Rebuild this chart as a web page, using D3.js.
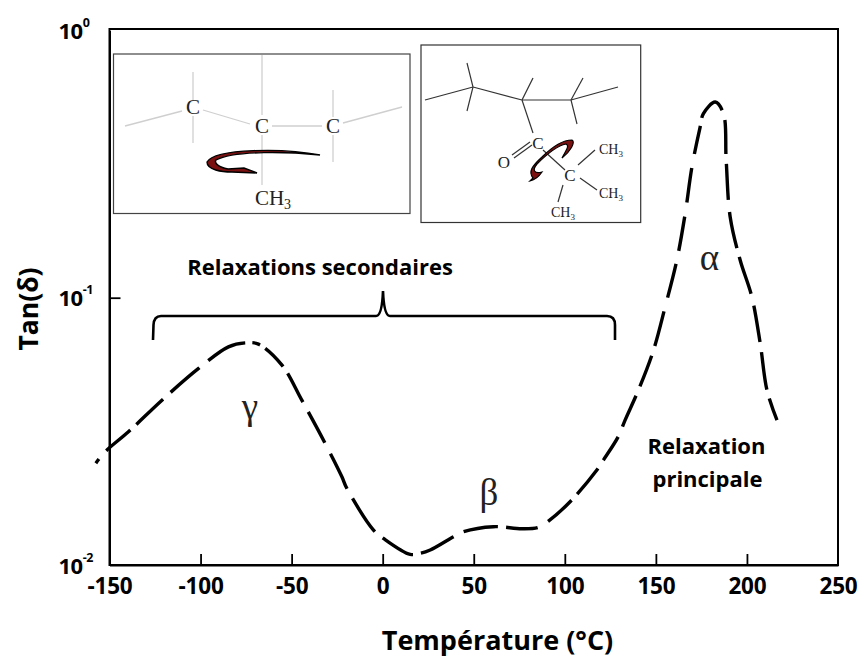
<!DOCTYPE html>
<html><head><meta charset="utf-8">
<script src="https://cdn.jsdelivr.net/npm/d3@7"></script>
<style>
html,body{margin:0;padding:0;background:#fff}
svg{display:block}
text{font-family:"Open Sans",Lato,sans-serif;fill:#000}
.b{font-weight:700}
.serif{font-family:"Liberation Serif",serif;fill:#222}
</style></head><body><div id="c"></div>
<script>
const temperature=[-157.5,-152.4,-139.6,-121.2,-101.1,-84.7,-75.5,-68.2,-55.3,-44.4,-31.6,-22.4,-19.7,-5.05,0.4,15.1,20.6,26.1,38.9,44.4,60.8,76.4,85.5,91,102.9,117.6,121.2,129.3,133.1,140.4,148.7,155.1,161.5,166.1,169.8,174.3,176.1,182.6,187.1,188.6,190.8,196.3,202.7,207.3,211,216.5];
const tanDelta=[0.02405,0.02652,0.0315,0.04136,0.05437,0.06548,0.06776,0.06702,0.05594,0.04136,0.02851,0.02138,0.01936,0.01351,0.01258,0.01096,0.01106,0.01138,0.01276,0.01332,0.01391,0.01367,0.01383,0.0146,0.01724,0.02265,0.02469,0.03017,0.03484,0.0451,0.06363,0.09239,0.1381,0.2064,0.3083,0.4351,0.4882,0.5395,0.4882,0.3266,0.2004,0.1381,0.1007,0.0674,0.0451,0.03484];
const xTicks=[-150,-100,-50,0,50,100,150,200,250];
const yTicks=[0.01,0.1,1];
const yExponents=["-2","-1","0"];
const title={x:"Température (°C)",y:"Tan(δ)"};
const dashLengths=[5,11,31,8,36,10,37,11,41,7,8,6,25,8,32,11,34,12,38,11,39,10,34,8,36,11,34,8,31,12,31,8,32,10,27,11,33,10,32,10,35,14,34,13,34,14,34,14,28,8,32,10,33,10,35,12,36,9,38,12,36,10,37,9,23];

const svg=d3.select("#c").append("svg").attr("width",861).attr("height",657);
const x=d3.scaleLinear().domain([-150,250]).range([109.5,838]);
const y=d3.scaleLog().domain([0.01,1]).range([565,30.4]);

svg.append("rect").attr("x",109.5).attr("y",29).attr("width",728.5).attr("height",536)
  .attr("fill","none").attr("stroke","#000").attr("stroke-width",2);

const gx=svg.append("g").attr("transform","translate(0,565)")
  .call(d3.axisBottom(x).tickValues(xTicks).tickFormat(d=>String(d)).tickSizeInner(-11).tickSizeOuter(0).tickPadding(0));
gx.select(".domain").attr("stroke-width",2);
gx.selectAll(".tick line").attr("stroke-width",1.8);
gx.selectAll(".tick text").attr("class","b").attr("y",29).attr("dy",0).style("font-size","22.5px").style("font-family","'Open Sans'").style("letter-spacing","-0.2px");
gx.selectAll(".tick").filter(d=>d===-150||d===250).select("line").remove();

const gy=svg.append("g").attr("transform","translate(109.5,0)")
  .call(d3.axisLeft(y).tickValues(yTicks).tickSizeInner(-11).tickSizeOuter(0).tickFormat(""));
gy.select(".domain").attr("stroke-width",2);
gy.selectAll(".tick line").attr("stroke-width",1.8);
gy.selectAll(".tick").filter(d=>d===0.01||d===1).select("line").remove();
gy.selectAll(".tick").each(function(d,i){
  const t=d3.select(this).append("text").attr("class","b").attr("text-anchor","start")
    .attr("x",-51).attr("y",8).style("font-size","22px").style("font-family","'Open Sans'").style("letter-spacing","-0.5px");
  t.append("tspan").text("10");
  t.append("tspan").attr("dy",-12).style("font-size","12.5px").text(yExponents[i]);
});

svg.append("text").attr("class","b").attr("x",497.5).attr("y",650).attr("text-anchor","middle")
  .style("font-size","27px").text(title.x);
svg.append("text").attr("class","b").attr("transform","translate(38,309) rotate(-90)").attr("text-anchor","middle")
  .style("font-size","26.5px").text(title.y);

const line=d3.line().x(d=>x(d[0])).y(d=>y(d[1])).curve(d3.curveCatmullRom.alpha(0.5));
const curve=svg.append("path").datum(temperature.map((t,i)=>[t,tanDelta[i]])).attr("d",line)
  .attr("fill","none").attr("stroke","#000").attr("stroke-width",3.4);
const total=curve.node().getTotalLength(), k=total/d3.sum(dashLengths);
curve.attr("stroke-dasharray",dashLengths.map(d=>(d*k).toFixed(2)).join(" "));

svg.append("path").attr("d","M153,340 L153.5,325 Q154,316 161,316 L376,316 Q382,316 383,291 Q384,316 390,316 L607,316 Q615,316 615,325 L615,340")
  .attr("fill","none").attr("stroke","#000").attr("stroke-width",2.6);

svg.append("text").attr("class","b").attr("x",320).attr("y",275).attr("text-anchor","middle").style("font-size","22px").text("Relaxations secondaires");
svg.append("text").attr("class","b").attr("x",706.5).attr("y",454).attr("text-anchor","middle").style("font-size","22px").text("Relaxation");
svg.append("text").attr("class","b").attr("x",707.5).attr("y",487).attr("text-anchor","middle").style("font-size","22px").text("principale");
[["α",709.5,270],["γ",250,419],["β",489,505]].forEach(g=>{
  svg.append("text").attr("x",g[1]).attr("y",g[2]).attr("text-anchor","middle")
    .style("font-family","'Liberation Serif'").style("font-size","37px").style("fill","#222").text(g[0]);
});

const a=svg.append("g");
a.append("rect").attr("x",113.5).attr("y",54).attr("width",296.5).attr("height",159.5).attr("fill","#fff").attr("stroke","#444").attr("stroke-width",1.2);
[[125,126,182,111],[193,72,193,100],[193,116,193,143],[203,110,250,124],[262,55,262,115],[262,135,262,185],[272,126,322,126],[333,90,333,117],[333,135,333,162],[343,123,402,107]]
 .forEach(l=>a.append("line").attr("x1",l[0]).attr("y1",l[1]).attr("x2",l[2]).attr("y2",l[3]).attr("stroke","#cfcfcf").attr("stroke-width",1.3));
[[193,114],[262,133],[333,133]].forEach(p=>a.append("text").attr("class","serif").attr("x",p[0]).attr("y",p[1]).attr("text-anchor","middle").style("font-size","21px").text("C"));
const ch=a.append("text").attr("class","serif").attr("x",273).attr("y",205).attr("text-anchor","middle").style("font-size","21px");
ch.append("tspan").text("CH");ch.append("tspan").attr("dy",4).style("font-size","14px").text("3");
a.append("path").attr("d","M320,155 C285,148 215,148 207,162 C207,170 222,172 232,172 L257,173 L244,168 L228,169 C218,167 214,163 216,160 C235,150 290,152 320,155Z")
  .attr("fill","#7a1010").attr("stroke","#000").attr("stroke-width",1.4);

const b=svg.append("g");
b.append("rect").attr("x",421).attr("y",45).attr("width",219.7).attr("height",177.5).attr("fill","#fff").attr("stroke","#333").attr("stroke-width",1.2);
[[425,100,473,87],[467,63,473,87],[473,87,467,111],[473,87,522,100],[533,78,522,100],[522,100,533,133],[522,100,571,100],[583,78,571,100],[571,100,577,124],[571,100,618,87],[512,155,530,142],[514,158,532,145],[543,150,565,170],[578,165,595,150],[580,178,597,190],[563,185,558,202]]
 .forEach(l=>b.append("line").attr("x1",l[0]).attr("y1",l[1]).attr("x2",l[2]).attr("y2",l[3]).attr("stroke","#333").attr("stroke-width",1.2));
[["C",538,149],["O",504,168],["C",570,181]].forEach(p=>b.append("text").attr("class","serif").attr("x",p[1]).attr("y",p[2]).attr("text-anchor","middle").style("font-size","17px").text(p[0]));
[[611,154],[611,198],[563,217]].forEach(p=>{
  const t=b.append("text").attr("class","serif").attr("x",p[0]).attr("y",p[1]).attr("text-anchor","middle").style("font-size","14px");
  t.append("tspan").text("CH");t.append("tspan").attr("dy",3).style("font-size","9px").text("3");
});
b.append("path").attr("d","M530,181 L533,178 C528,172 532,166 542,157 C552,147 562,140 572,140 C576,142 570,152 562,158 C566,150 570,146 566,144 C556,146 545,156 537,164 C532,170 534,174 542,172 C538,178 534,180 530,181Z")
  .attr("fill","#7a1010").attr("stroke","#000").attr("stroke-width",1.2);
</script></body></html>
